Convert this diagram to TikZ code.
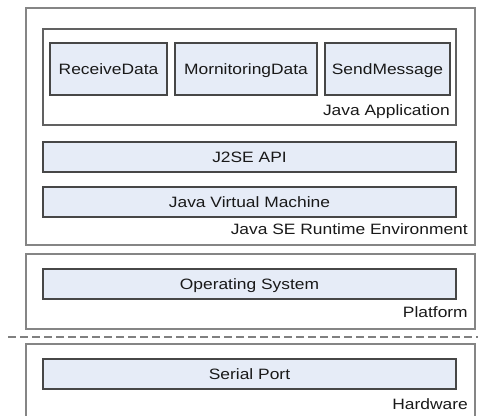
\documentclass[tikz,border=0pt]{standalone}
\usepackage{fontspec}
\setmainfont[FakeStretch=1.16]{Liberation Sans}
\begin{document}
\begin{tikzpicture}[x=0.75pt,y=-0.75pt,
  outerbox/.style={draw=black!48, line width=1pt, fill=white, inner sep=0pt},
  appbox/.style={draw=black!62, line width=0.9pt, inner sep=0pt},
  layerbox/.style={draw=black!72, line width=0.8pt, fill=fillblue, inner sep=0pt, text=black!90, text height=8pt, text depth=0pt, font=\fontsize{11.25pt}{13pt}\selectfont},
  lbl/.style={anchor=east, inner sep=0pt, text=black!90, text height=8.2pt, text depth=2.2pt, font=\fontsize{11.25pt}{13pt}\selectfont}]
\definecolor{fillblue}{HTML}{E6ECF7}
\useasboundingbox (0,0) rectangle (478,416);
% outer boxes
\node[outerbox, minimum width=449*0.75pt, minimum height=237*0.75pt] (jre) at (250.5,126.5) {};
\node[outerbox, minimum width=449*0.75pt, minimum height=75*0.75pt] (platform) at (250.5,291.5) {};
\coordinate (hwbl) at (26,420);
\coordinate (hwtl) at (26,344);
\coordinate (hwtr) at (475,344);
\coordinate (hwbr) at (475,420);
\draw[draw=black!48, line width=1pt] (hwbl) -- (hwtl) -- (hwtr) -- (hwbr);
% java application
\node[appbox, minimum width=413*0.75pt, minimum height=96*0.75pt] (app) at (249.5,77) {};
\node[layerbox, minimum width=117*0.75pt, minimum height=52*0.75pt] (recv) at (108.5,69) {ReceiveData};
\node[layerbox, minimum width=142*0.75pt, minimum height=52*0.75pt] (mon) at (246,69) {MornitoringData};
\node[layerbox, minimum width=125*0.75pt, minimum height=52*0.75pt] (send) at (387.5,69) {SendMessage};
\node[lbl] (applbl) at (450,112) {Java Application};
% layers
\node[layerbox, minimum width=413*0.75pt, minimum height=30*0.75pt] (api) at (249.5,157) {J2SE API};
\node[layerbox, minimum width=413*0.75pt, minimum height=30*0.75pt] (jvm) at (249.5,202) {Java Virtual Machine};
\node[lbl] (jrelbl) at (468,231) {Java SE Runtime Environment};
\node[layerbox, minimum width=413*0.75pt, minimum height=30*0.75pt] (os) at (249.5,284) {Operating System};
\node[lbl] (platlbl) at (468,314) {Platform};
\coordinate (dashl) at (8,337);
\coordinate (dashr) at (478,337);
\draw[draw=black!50, line width=1pt, dash pattern=on 6pt off 3pt] (dashl) -- (dashr);
\node[layerbox, minimum width=413*0.75pt, minimum height=30*0.75pt] (serial) at (249.5,374) {Serial Port};
\node[lbl] (hwlbl) at (468,405) {Hardware};
\end{tikzpicture}
\end{document}
